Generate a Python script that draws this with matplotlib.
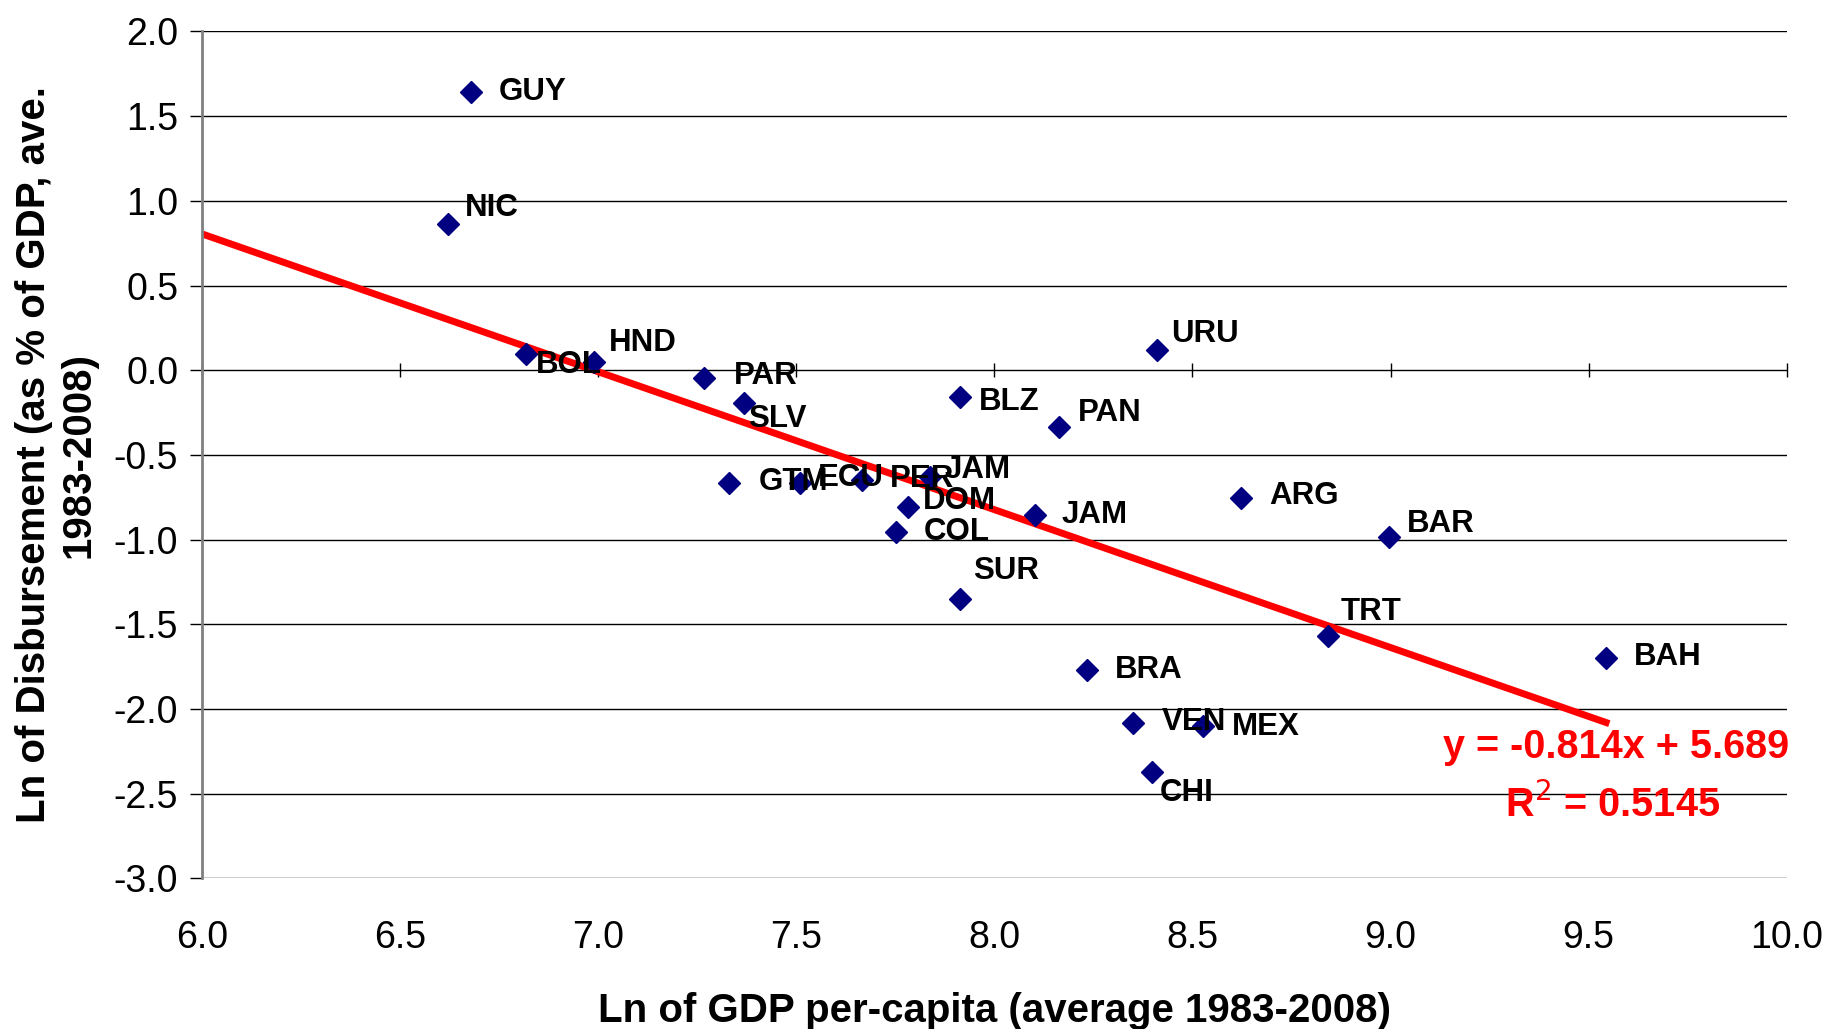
import matplotlib
matplotlib.use("Agg")
import matplotlib.pyplot as plt
import numpy as np

plt.rcParams['font.family'] = ['Liberation Sans', 'DejaVu Sans']

# data
countries = ['GUY', 'NIC', 'BOL', 'HND', 'PAR', 'SLV', 'GTM', 'ECU', 'PER', 'JAM',
             'DOM', 'COL', 'SUR', 'BLZ', 'PAN', 'URU', 'JAM', 'ARG', 'BAR', 'TRT',
             'BAH', 'BRA', 'VEN', 'MEX', 'CHI']
ln_gdp = [6.678, 6.622, 6.819, 6.990, 7.268, 7.368, 7.331, 7.510, 7.665, 7.838,
          7.782, 7.752, 7.913, 7.913, 8.164, 8.411, 8.102, 8.623, 8.995, 8.842,
          9.544, 8.233, 8.351, 8.526, 8.398]
ln_disb = [1.641, 0.862, 0.097, 0.048, -0.048, -0.193, -0.665, -0.668, -0.648, -0.629,
           -0.806, -0.954, -1.352, -0.159, -0.338, 0.117, -0.855, -0.752, -0.986, -1.570,
           -1.698, -1.771, -2.082, -2.100, -2.372]
slope = -0.814
intercept = 5.689
r2 = 0.5145

# label offsets (in reference screen px at 1568 wide; +y is up)
label_off = [(24, 0), (14, 14), (8, -10), (13, 16), (25, 2), (4, -14), (25, 1), (15, 5),
             (24, 1), (12, 6), (13, 5), (24, 0), (11, 24), (16, -4), (16, 12), (12, 14),
             (23, 0), (24, 1), (16, 11), (11, 21), (24, 1), (24, 0), (24, 1), (25, -1),
             (7, -18)]
px2pt = 1831 / 1568 * 72 / 100

fig = plt.figure(figsize=(18.31, 10.29), dpi=100)
ax = fig.add_axes([0.1103, 0.1464, 0.8655, 0.823])

ax.set_xlim(6.0, 10.0)
ax.set_ylim(-3.0, 2.0)
ax.set_xticks(np.arange(6.0, 10.01, 0.5))
ax.set_yticks(np.arange(-3.0, 2.01, 0.5))
ax.set_xticklabels([f'{v:.1f}' for v in np.arange(6.0, 10.01, 0.5)])
ax.set_yticklabels([f'{v:.1f}' for v in np.arange(-3.0, 2.01, 0.5)])
ax.yaxis.grid(True, color='black', linewidth=1.0)
ax.set_axisbelow(True)

for s in ['top', 'right']:
    ax.spines[s].set_visible(False)
ax.spines['bottom'].set_visible(False)
ax.spines['left'].set_color('#808080')
ax.spines['left'].set_linewidth(2)
ax.tick_params(axis='y', length=9, width=1, color='black', labelsize=27, pad=8)
ax.tick_params(axis='x', length=0, labelsize=27, pad=30)

# Excel-style category axis crossing at y = 0
secax = ax.secondary_xaxis(0.6)
secax.set_xticks(np.arange(6.0, 10.01, 0.5))
secax.tick_params(axis='x', direction='inout', length=10, width=1, labelbottom=False,
                  labeltop=False)
secax.spines['top'].set_visible(False)
secax.spines['bottom'].set_linewidth(1.2)

# trend line
xs = np.array([6.0, max(ln_gdp)])
ax.plot(xs, slope * xs + intercept, color='#ff0000', linewidth=5, zorder=2)

ax.plot(ln_gdp, ln_disb, linestyle='none', marker='D', markersize=11,
        color='#000080', zorder=3)

for name, x, y, (dx, dy) in zip(countries, ln_gdp, ln_disb, label_off):
    ax.annotate(name, (x, y), xytext=(dx * px2pt, dy * px2pt), textcoords='offset points',
                ha='left', va='center', fontsize=22.5, fontweight='bold', zorder=4)

ax.text(1.0015, 0.1548, f'y = {slope:.3f}x + {intercept:.3f}', transform=ax.transAxes,
        ha='right', va='center', fontsize=28.5, fontweight='bold', color='#ff0000')
ax.text(0.890, 0.087, f'R$^2$ = {r2:.4f}', transform=ax.transAxes,
        ha='center', va='center', fontsize=28.5, fontweight='bold', color='#ff0000')

ax.set_xlabel('Ln of GDP per-capita (average 1983-2008)', fontsize=29,
              fontweight='bold', labelpad=26)
ax.set_ylabel('Ln of Disbursement (as % of GDP, ave.\n1983-2008)', fontsize=29,
              fontweight='bold', labelpad=12)

fig.savefig('out.png', dpi=100)
